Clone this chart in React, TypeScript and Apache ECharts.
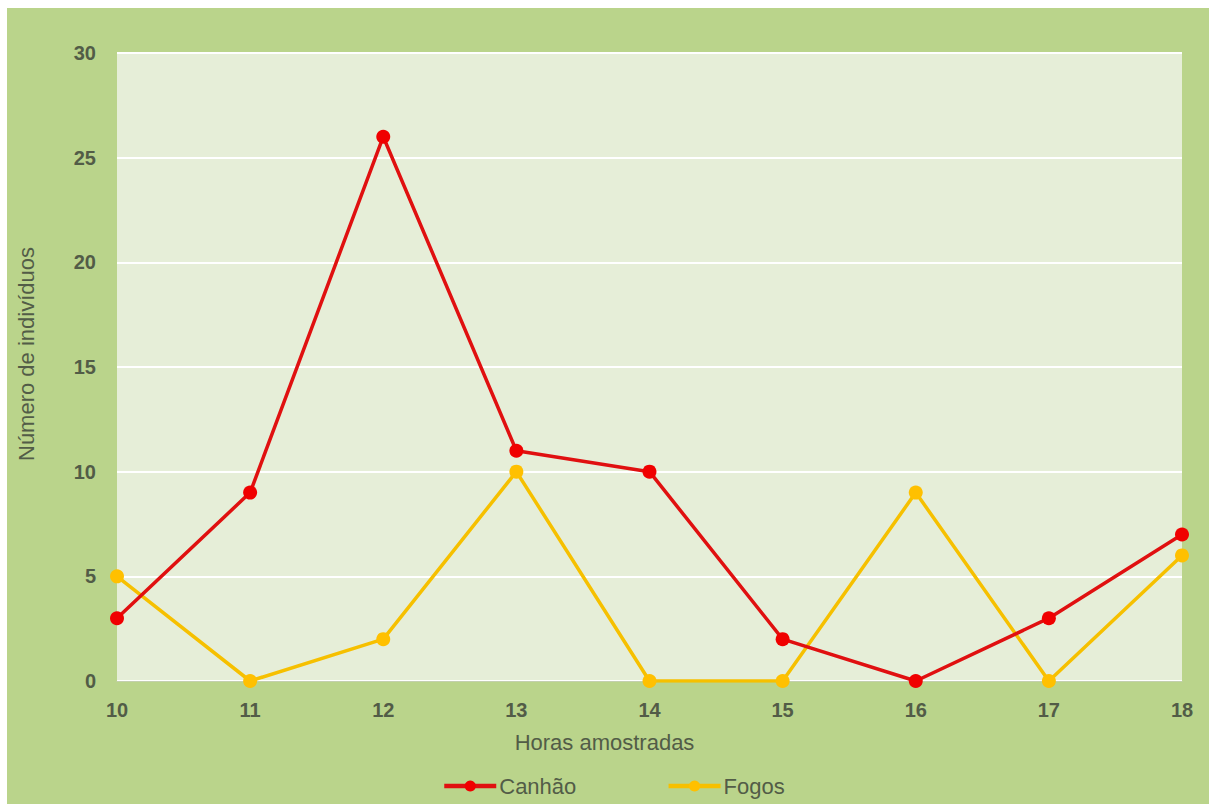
import React, { useEffect, useRef } from "react";
import * as echarts from "echarts";

const hours = ["10", "11", "12", "13", "14", "15", "16", "17", "18"];
const canhao = [3, 9, 26, 11, 10, 2, 0, 3, 7];
const fogos = [5, 0, 2, 10, 0, 0, 9, 0, 6];
const seriesNames = ["Canhão", "Fogos"];

const TEXT = "#525c47";
const FONT = "Liberation Sans, Arial, sans-serif";

export default function App() {
  const ref = useRef<HTMLDivElement>(null);
  useEffect(() => {
    if (!ref.current) return;
    const chart = echarts.init(ref.current, undefined, { renderer: "svg" });
    chart.setOption({
      animation: false,
      backgroundColor: "#bad48b",
      textStyle: { fontFamily: FONT },
      grid: {
        left: 108,
        top: 45,
        right: 27,
        bottom: 123,
        show: true,
        backgroundColor: "#e6eed8",
        borderWidth: 0,
      },
      legend: {
        data: seriesNames,
        left: 430,
        top: 762,
        itemWidth: 52,
        itemHeight: 14,
        itemGap: 90,
        lineStyle: { width: 4.5 },
        textStyle: { color: TEXT, fontSize: 22, fontFamily: FONT, padding: [0, 0, 0, -2] },
      },
      xAxis: {
        type: "category",
        data: hours,
        boundaryGap: false,
        name: "Horas amostradas",
        nameLocation: "middle",
        nameGap: 50,
        nameTextStyle: { color: TEXT, fontSize: 22, fontFamily: FONT, padding: [0, 90, 0, 0] },
        axisLine: { show: true, lineStyle: { color: "#c3cfae", width: 1 } },
        axisTick: { show: false },
        axisLabel: { color: TEXT, fontSize: 20, fontWeight: "bold", margin: 19, fontFamily: FONT },
        splitLine: { show: false },
      },
      yAxis: {
        type: "value",
        min: 0,
        max: 30,
        interval: 5,
        name: "Número de indivíduos",
        nameLocation: "middle",
        nameGap: 80,
        nameTextStyle: { color: TEXT, fontSize: 22, fontFamily: FONT, padding: [0, 0, 0, 26] },
        axisLine: { show: false },
        axisTick: { show: false },
        axisLabel: { color: TEXT, fontSize: 20, fontWeight: "bold", margin: 21, fontFamily: FONT },
        splitLine: { show: true, lineStyle: { color: "#ffffff", width: 2 } },
      },
      series: [
        {
          name: seriesNames[0],
          type: "line",
          data: canhao,
          symbol: "circle",
          symbolSize: 14,
          itemStyle: { color: "#f00000" },
          lineStyle: { color: "#e01010", width: 3.5 },
          z: 3,
        },
        {
          name: seriesNames[1],
          type: "line",
          data: fogos,
          symbol: "circle",
          symbolSize: 14,
          itemStyle: { color: "#ffc000" },
          lineStyle: { color: "#f6c000", width: 3.5 },
          z: 2,
        },
      ],
    });
    return () => chart.dispose();
  }, []);
  return (
    <div
      ref={ref}
      style={{ position: "fixed", left: 7, top: 8, width: 1202, height: 796 }}
    />
  );
}
